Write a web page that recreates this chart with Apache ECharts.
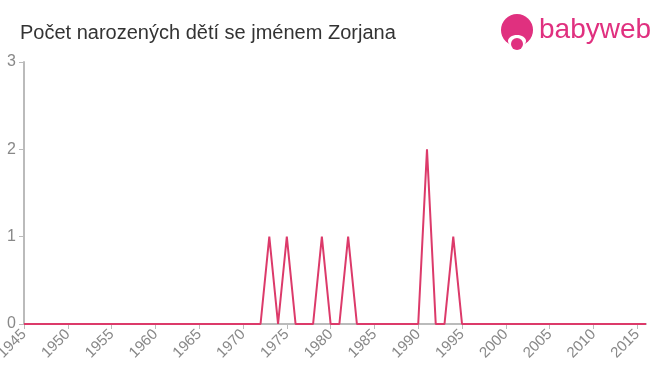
<!DOCTYPE html>
<html><head><meta charset="utf-8">
<script src="https://cdn.jsdelivr.net/npm/echarts@6/dist/echarts.min.js"></script>
<style>html,body{margin:0;padding:0;background:#fff}#c{width:660px;height:375px}</style>
</head><body><div id="c"></div>
<script>
var title = "Počet narozených dětí se jménem Zorjana";
var years = [];
for (var y = 1945; y <= 2016; y++) years.push(String(y));
// non-zero counts; all other years are 0
var peakYears = [1973, 1975, 1979, 1982, 1991, 1994];
var peakValues = [1, 1, 1, 1, 2, 1];
var counts = years.map(function (yr) {
  var i = peakYears.indexOf(Number(yr));
  return i >= 0 ? peakValues[i] : 0;
});
var yTicks = [0, 1, 2, 3];

var chart = echarts.init(document.getElementById('c'), null, {renderer: 'canvas'});
chart.setOption({
  animation: false,
  backgroundColor: '#fff',
  title: {
    text: title, left: 15, top: 18,
    textStyle: {fontFamily: 'Liberation Sans, Arial, sans-serif', fontSize: 20, fontWeight: 'normal', color: '#333'}
  },
  graphic: [
    {type: 'circle', shape: {cx: 517, cy: 30, r: 16}, style: {fill: '#e0307f'}},
    {type: 'ellipse', shape: {cx: 517, cy: 41, rx: 9, ry: 6}, style: {fill: '#fff'}},
    {type: 'circle', shape: {cx: 517, cy: 44, r: 6}, style: {fill: '#e0307f'}},
    {type: 'text', left: 539, top: 16, style: {text: 'babyweb', fontFamily: 'Liberation Sans, Arial, sans-serif', fontSize: 28, fontWeight: 'normal', fill: '#e0307f'}}
  ],
  grid: {left: 24, right: 14, top: 62, bottom: 51, containLabel: false, outerBoundsMode: 'none'},
  xAxis: {
    type: 'category', data: years, boundaryGap: false,
    axisLine: {lineStyle: {color: '#bbb', width: 2}},
    axisTick: {interval: 4, length: 5, lineStyle: {color: '#bbb'}},
    axisLabel: {interval: 4, rotate: 45, color: '#888', fontSize: 15, fontFamily: 'Liberation Sans, Arial, sans-serif', margin: 8}
  },
  yAxis: {
    type: 'value', min: 0, max: 3, interval: 1,
    axisLine: {show: true, lineStyle: {color: '#bbb', width: 2}},
    axisTick: {show: true, length: 5, lineStyle: {color: '#bbb'}},
    splitLine: {show: false},
    axisLabel: {color: '#888', fontSize: 16, fontFamily: 'Liberation Sans, Arial, sans-serif', margin: 8}
  },
  series: [{
    type: 'line', data: counts, showSymbol: false, symbol: 'none',
    lineStyle: {color: '#dc3a6a', width: 2}
  }]
});
</script></body></html>
